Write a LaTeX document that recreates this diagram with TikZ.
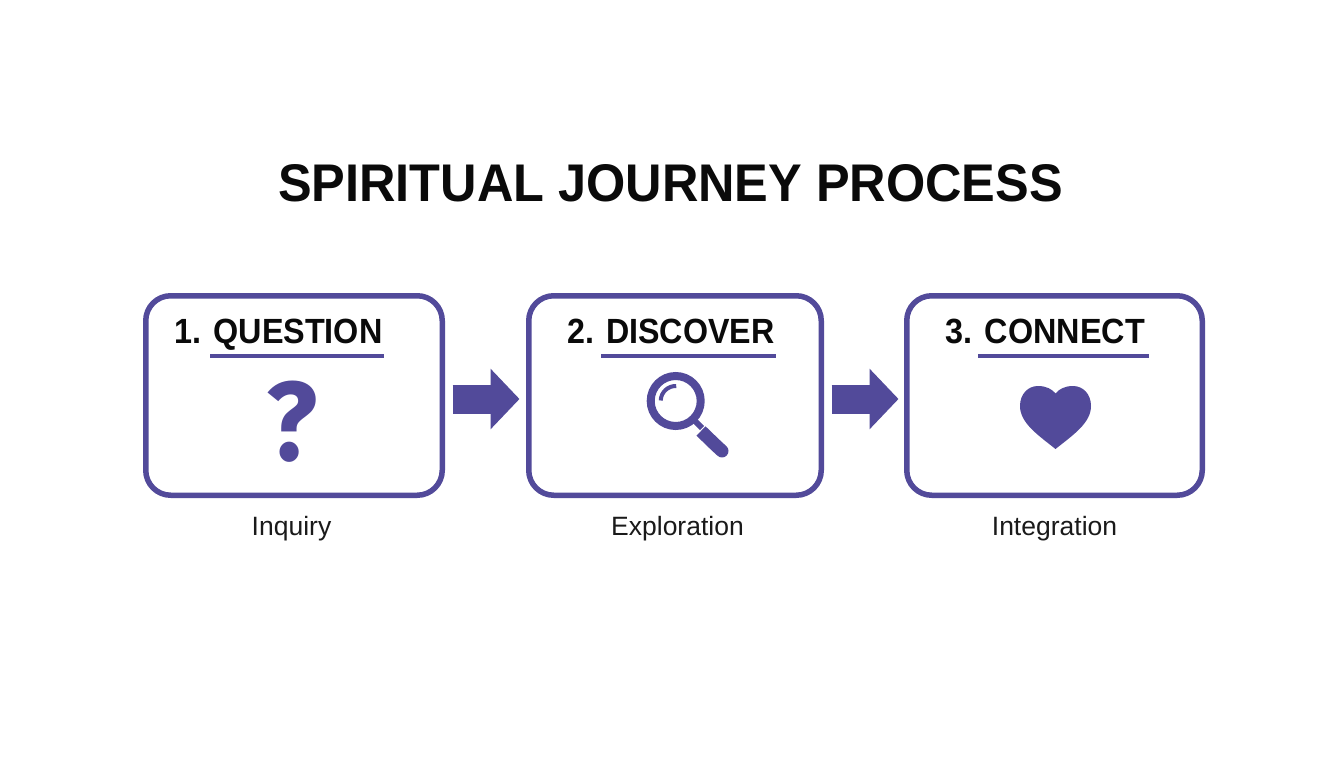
\documentclass[tikz,border=0pt]{standalone}
\usepackage{fontspec}
\setmainfont{Liberation Sans}
\newfontfamily\qfont{Fira Sans}
\usetikzlibrary{arrows.meta}
\definecolor{pur}{HTML}{524A9A}
\definecolor{ink}{HTML}{0A0A0A}
\definecolor{sub}{HTML}{1A1A1A}
\tikzset{
  stage/.style={draw=pur,line width=5.5pt,rounded corners=25pt,fill=white,minimum height=199.5pt,inner sep=0pt},
  heading/.style={font=\bfseries\fontsize{35}{38}\selectfont,text=ink,inner sep=0pt,anchor=base},
  caption/.style={font=\fontsize{26.5}{30}\selectfont,text=sub,inner sep=0pt,anchor=base},
  rule/.style={draw=pur,line width=3.5pt},
  blockarrow/.style={draw=pur,line width=29pt,-{Triangle[length=29pt,width=59pt,fill=pur]}},
}
\begin{document}
\begin{tikzpicture}[x=1pt,y=-1pt]
\useasboundingbox (0,0) rectangle (1344,768);
\fill[white] (0,0) rectangle (1344,768);
\node[font=\bfseries\fontsize{53}{60}\selectfont,text=ink,inner sep=0pt,anchor=base] (title) at (670.5,201.5) {\scalebox{.952}[1]{SPIRITUAL JOURNEY PROCESS}};
\node[stage,minimum width=296.5pt] (b1) at (294,395.5) {};
\node[stage,minimum width=292.5pt] (b2) at (675,395.5) {};
\node[stage,minimum width=295.5pt] (b3) at (1054.5,395.5) {};
\node[heading] (h1) at (278.5,343) {\scalebox{.925}[1]{1. QUESTION}};
\node[heading] (h2) at (671,343) {\scalebox{.92}[1]{2. DISCOVER}};
\node[heading] (h3) at (1045.5,343) {\scalebox{.925}[1]{3. CONNECT}};
\coordinate (u1a) at (210,356); \coordinate (u1b) at (384,356);
\coordinate (u2a) at (601,356); \coordinate (u2b) at (776,356);
\coordinate (u3a) at (978,356); \coordinate (u3b) at (1149,356);
\draw[rule] (u1a) -- (u1b);
\draw[rule] (u2a) -- (u2b);
\draw[rule] (u3a) -- (u3b);
\node[caption] (c1) at (291.5,535) {Inquiry};
\node[caption] (c2) at (677.5,535) {Exploration};
\node[caption] (c3) at (1054.5,535) {Integration};
\draw[blockarrow,shorten <=7.5pt,shorten >=6.5pt] ([yshift=-3.5pt]b1.east) -- ([yshift=-3.5pt]b2.west);
\draw[blockarrow,shorten <=7.5pt,shorten >=5.5pt] ([yshift=-3.5pt]b2.east) -- ([yshift=-3.5pt]b3.west);
% question mark
\node[inner sep=0pt,anchor=base,text=pur] (q) at (292,460) {\scalebox{.95}[1]{\qfont\bfseries\fontsize{112}{120}\selectfont ?}};
% magnifier
\draw[pur,line width=8pt] (675.7,401) circle (25pt);
\draw[pur,line width=4pt] (675.7,401) ++(88:15pt) arc (88:178:15pt);
\draw[pur,line width=6pt] (693,419) -- (702,428);
\draw[pur,line width=13pt] (701,431) -- (716,445.5);
\draw[pur,line width=13pt,line cap=round] (716,445.5) -- (722,451);
% heart
\fill[pur] (1055.5,449) .. controls (1038,435) and (1020,423) .. (1020,406)
  .. controls (1020,394) and (1028,386) .. (1038,386)
  .. controls (1046,386) and (1052,389) .. (1055.5,393.5)
  .. controls (1059,389) and (1065,386) .. (1073,386)
  .. controls (1083,386) and (1091,394) .. (1091,406)
  .. controls (1091,423) and (1073,435) .. (1055.5,449) -- cycle;
\end{tikzpicture}
\end{document}
